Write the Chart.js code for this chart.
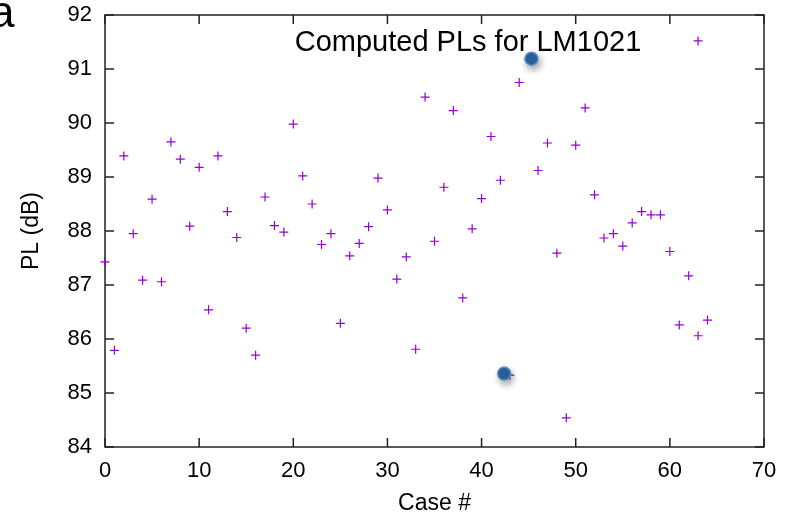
<!DOCTYPE html>
<html>
<head>
<meta charset="utf-8">
<script src="https://cdn.jsdelivr.net/npm/chart.js@4/dist/chart.umd.min.js"></script>
<style>
  html, body { margin: 0; padding: 0; background: #fff; }
  #wrap { position: relative; width: 792px; height: 518px; }
  #panel { position: absolute; left: -10px; top: -10px; font-family: "Liberation Sans", Arial, sans-serif; font-size: 44px; color: #000; line-height: 1; }
</style>
</head>
<body>
<div id="wrap">
  <canvas id="c" width="792" height="518"></canvas>
  <div id="panel">a</div>
</div>
<script>
// ---- data ----
const caseIds = [0,1,2,3,4,5,6,7,8,9,10,11,12,13,14,15,16,17,18,19,20,21,22,23,24,25,26,27,28,29,30,31,32,33,34,35,36,37,38,39,40,41,42,43,44,45,46,47,48,49,50,51,52,53,54,55,56,57,58,59,60,61,62,63,64,63];
const plValues = [87.43,85.79,89.39,87.95,87.09,88.59,87.06,89.65,89.33,88.09,89.18,86.54,89.39,88.36,87.88,86.20,85.70,88.63,88.10,87.98,89.98,89.02,88.50,87.75,87.95,86.29,87.54,87.77,88.08,88.98,88.39,87.11,87.52,85.81,90.48,87.81,88.81,90.23,86.76,88.04,88.60,89.75,88.94,85.33,90.75,91.18,89.12,89.63,87.59,84.54,89.59,90.28,88.67,87.87,87.95,87.72,88.15,88.36,88.30,88.30,87.62,86.26,87.17,86.06,86.35,91.52];
const highlightCase = [45.3, 42.4];
const highlightPL = [91.19, 85.36];
const xTicks = [0,10,20,30,40,50,60,70];
const yTicks = [84,85,86,87,88,89,90,91,92];
const titleText = 'Computed PLs for LM1021';
const xLabel = 'Case #';
const yLabel = 'PL (dB)';

const mainPoints = caseIds.map((x, i) => ({x: x, y: plValues[i]}));
const hiPoints = highlightCase.map((x, i) => ({x: x, y: highlightPL[i]}));

const frame = {
  id: 'frame',
  beforeDatasetsDraw(chart) {
    const {ctx, chartArea: a, scales: {x, y}} = chart;
    ctx.save();
    ctx.strokeStyle = '#222';
    ctx.lineWidth = 1.5;
    ctx.strokeRect(a.left, a.top, a.right - a.left, a.bottom - a.top);
    const tl = 9;
    ctx.beginPath();
    xTicks.forEach(v => {
      const px = x.getPixelForValue(v);
      ctx.moveTo(px, a.bottom); ctx.lineTo(px, a.bottom - tl);
      ctx.moveTo(px, a.top); ctx.lineTo(px, a.top + tl);
    });
    yTicks.forEach(v => {
      const py = y.getPixelForValue(v);
      ctx.moveTo(a.left, py); ctx.lineTo(a.left + tl, py);
      ctx.moveTo(a.right, py); ctx.lineTo(a.right - tl, py);
    });
    ctx.stroke();
    // in-plot title
    ctx.fillStyle = '#000';
    ctx.font = '29px "Liberation Sans", Arial, sans-serif';
    ctx.textAlign = 'center';
    ctx.textBaseline = 'alphabetic';
    ctx.fillText(titleText, 468, 51);
    ctx.restore();
  },
  beforeDatasetDraw(chart, args) {
    if (args.index === 1) {
      const ctx = chart.ctx;
      ctx.save();
      ctx.shadowColor = 'rgba(0,0,0,0.35)';
      ctx.shadowBlur = 7;
      ctx.shadowOffsetX = 2;
      ctx.shadowOffsetY = 4;
    }
  },
  afterDatasetDraw(chart, args) {
    if (args.index === 1) chart.ctx.restore();
  }
};

const tickFont = { family: '"Liberation Sans", Arial, sans-serif', size: 22 };
const labelFont = { family: '"Liberation Sans", Arial, sans-serif', size: 23 };

new Chart(document.getElementById('c'), {
  type: 'scatter',
  data: {
    datasets: [
      {
        data: mainPoints,
        pointStyle: 'cross',
        pointRadius: 4.5,
        pointHoverRadius: 4.5,
        borderColor: '#9400d3',
        backgroundColor: '#9400d3',
        borderWidth: 1.2,
        clip: false,
        order: 1
      },
      {
        data: hiPoints,
        pointStyle: 'circle',
        pointRadius: 6.5,
        pointHoverRadius: 6.5,
        backgroundColor: '#2b64a0',
        borderColor: '#5b8fc6',
        borderWidth: 1.5,
        clip: false,
        order: 0
      }
    ]
  },
  options: {
    responsive: false,
    animation: false,
    events: [],
    layout: { padding: { left: 0, top: 15, right: 28, bottom: 0 } },
    plugins: { legend: { display: false }, tooltip: { enabled: false } },
    scales: {
      x: {
        type: 'linear',
        min: 0, max: 70,
        afterBuildTicks(s) { s.ticks = xTicks.map(v => ({value: v})); },
        afterFit(s) { s.height = 71; s.paddingLeft = 0; s.paddingRight = 0; },
        grid: { display: false, drawTicks: false },
        border: { display: false },
        ticks: { padding: 11, color: '#000', font: tickFont },
        title: { display: true, text: xLabel, color: '#000', padding: { top: 0, bottom: 1 }, font: labelFont }
      },
      y: {
        type: 'linear',
        min: 84, max: 92,
        afterBuildTicks(s) { s.ticks = yTicks.map(v => ({value: v})); },
        afterFit(s) { s.width = 105; s.paddingTop = 0; s.paddingBottom = 0; },
        grid: { display: false, drawTicks: false },
        border: { display: false },
        ticks: { padding: 13, color: '#000', font: tickFont },
        title: { display: true, text: yLabel, color: '#000', padding: { top: 18, bottom: 0 }, font: labelFont }
      }
    }
  },
  plugins: [frame]
});
</script>
</body>
</html>
